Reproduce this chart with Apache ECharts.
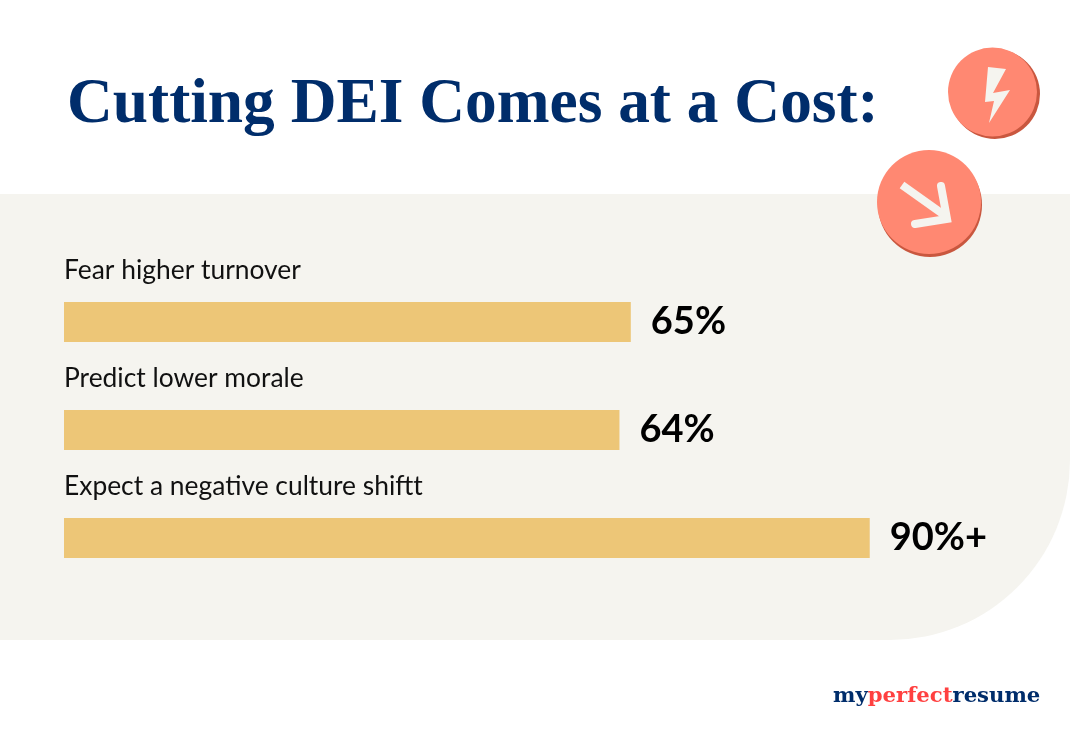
<!DOCTYPE html>
<html>
<head>
<meta charset="utf-8">
<title>Cutting DEI Comes at a Cost</title>
<style>
html, body { margin: 0; padding: 0; background: #fff; }
#container { width: 1070px; height: 739px; }
</style>
<script src="https://cdn.jsdelivr.net/npm/echarts@6/dist/echarts.min.js"></script>
</head>
<body>
<div id="container"></div>
<script>
var categories = ['Fear higher turnover', 'Predict lower morale', 'Expect a negative culture shiftt'];
var values = [65, 63.7, 92.4];
var valueLabels = ['65%', '64%', '90%+'];

var navy = '#002d6b';
var coral = '#ff8872';
var coralDark = '#c9573f';
var cream = '#f5f4ef';

var myChart = echarts.init(document.getElementById('container'));

var option = {
    backgroundColor: '#ffffff',
    animation: false,
    title: {
        text: 'Cutting DEI Comes at a Cost:',
        left: 62,
        top: 69,
        textStyle: {
            fontFamily: 'Liberation Serif',
            fontWeight: 'bold',
            fontSize: 63.4,
            color: navy
        }
    },
    grid: { left: 64, top: 268, width: 872, height: 324 },
    xAxis: { type: 'value', min: 0, max: 100, show: false },
    yAxis: {
        type: 'category',
        inverse: true,
        data: categories,
        axisLine: { show: false },
        axisTick: { show: false },
        axisLabel: {
            inside: true,
            margin: 0,
            align: 'left',
            verticalAlign: 'bottom',
            padding: [0, 0, 39, 0],
            fontFamily: 'Lato',
            fontSize: 26.4,
            color: '#111111'
        }
    },
    series: [{
        type: 'bar',
        data: values,
        barWidth: 40,
        z: 3,
        itemStyle: { color: '#edc677' },
        label: {
            show: true,
            position: 'right',
            distance: 20,
            fontFamily: 'Lato',
            fontWeight: 'bold',
            fontSize: 38,
            color: '#000000',
            formatter: function (params) {
                return valueLabels[params.dataIndex];
            }
        }
    }],
    graphic: [
        // panel behind the bars
        { type: 'rect', z: -10, shape: { x: 0, y: 194, width: 1070, height: 446, r: [0, 0, 180, 0] }, style: { fill: cream } },
        // lightning badge
        { type: 'circle', z: 5, shape: { cx: 995, cy: 94, r: 45 }, style: { fill: coralDark } },
        { type: 'circle', z: 5, shape: { cx: 992.5, cy: 92, r: 44.5 }, style: { fill: coral } },
        { type: 'polygon', z: 5, shape: { points: [[988, 67], [1006, 69], [993, 93], [1010, 90], [989, 123], [994, 101], [985, 102]] }, style: { fill: cream } },
        // arrow badge
        { type: 'circle', z: 5, shape: { cx: 930, cy: 205, r: 52 }, style: { fill: coralDark } },
        { type: 'circle', z: 5, shape: { cx: 929, cy: 202, r: 52 }, style: { fill: coral } },
        { type: 'polyline', z: 5, shape: { points: [[902, 185], [947, 217]] }, style: { stroke: cream, lineWidth: 8, fill: null } },
        { type: 'polyline', z: 5, shape: { points: [[941, 186], [947, 219], [915, 224]] }, style: { stroke: cream, lineWidth: 8, lineCap: 'round', lineJoin: 'miter', fill: null } },
        // logo
        {
            type: 'text',
            z: 5,
            x: 833,
            y: 686,
            style: {
                text: '{a|my}{b|perfect}{a|resume}',
                rich: {
                    a: { fontFamily: 'DejaVu Serif', fontWeight: 'bold', fontSize: 21.2, fill: navy, color: navy },
                    b: { fontFamily: 'DejaVu Serif', fontWeight: 'bold', fontSize: 21.2, fill: '#ff4040', color: '#ff4040' }
                }
            }
        }
    ]
};

myChart.setOption(option);
</script>
</body>
</html>
